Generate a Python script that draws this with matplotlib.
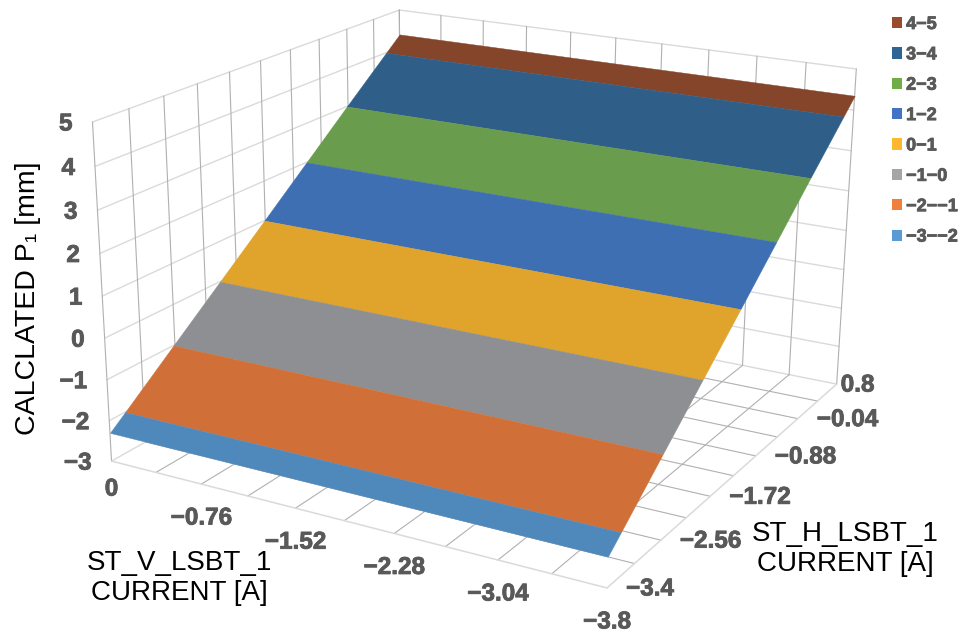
import numpy as np
import matplotlib
matplotlib.use("Agg")
import matplotlib.pyplot as plt
import matplotlib.patheffects as pe
from matplotlib.patches import Patch
from mpl_toolkits.mplot3d import proj3d
from mpl_toolkits.mplot3d.art3d import Poly3DCollection

W, H = 960, 632

# grid of the two magnet currents
v_grid = [0, -0.38, -0.76, -1.14, -1.52, -1.9, -2.28, -2.66, -3.04, -3.42, -3.8]
h_grid = [-3.4, -2.98, -2.56, -2.14, -1.72, -1.3, -0.88, -0.46, -0.04, 0.38, 0.8]
z_ticks = [-3, -2, -1, 0, 1, 2, 3, 4, 5]

# calculated P1, it only changes with the H current
p1_by_h = [-2.3, -1.64, -0.97, -0.31, 0.36, 1.02, 1.69, 2.36, 3.03, 3.69, 4.35]

v_ticks = [0, -0.76, -1.52, -2.28, -3.04, -3.8]
v_tick_labels = ["0", "−0.76", "−1.52", "−2.28", "−3.04", "−3.8"]
h_ticks = [0.8, -0.04, -0.88, -1.72, -2.56, -3.4]
h_tick_labels = ["0.8", "−0.04", "−0.88", "−1.72", "−2.56", "−3.4"]

band_labels = ["4−5", "3−4", "2−3", "1−2", "0−1", "−1−0", "−2−−1", "−3−−2"]
band_low = [4, 3, 2, 1, 0, -1, -2, -3]
band_colors = ["#84452A", "#2F5E88", "#6A9C4D", "#3E6FB3",
               "#E0A32B", "#8E8F92", "#D07038", "#4F89BC"]
legend_colors = ["#9A4B2C", "#2E6595", "#70AD47", "#4472C4",
                 "#FDB92B", "#A5A5A5", "#F07F3C", "#5B9BD5"]

FONT = ["Liberation Sans", "DejaVu Sans"]
plt.rcParams["font.family"] = FONT

GRID_DARK = "#B0B0B0"
GRID_LIGHT = "#DADADA"
TICK_COLOR = "#595959"
HEAVY = [pe.withStroke(linewidth=0.6, foreground=TICK_COLOR)]


def canvas_to_view(px, py):
    # axes is a 960 px square centred on the canvas, view limits -0.095..0.09
    return (-0.095 + px / W * 0.185,
            -0.095 + (H - py + (W - H) / 2) / W * 0.185)


def solve_camera():
    # box corners in data units and where they sit on the canvas
    v0, v1 = v_grid[0], v_grid[-1]
    h0, h1 = h_grid[0], h_grid[-1]
    z0, z1 = z_ticks[0], z_ticks[-1]
    pairs = [((v0, h0, z0), (112, 461), 1), ((v0, h0, z1), (92, 122), 1),
             ((v1, h0, z0), (607, 588), 1), ((v1, h1, z0), (837, 384), 1),
             ((v1, h1, z1), (856, 69), 1), ((v0, h1, z1), (400, 10), 1),
             ((v0, h1, z0), (385, 300), 0.2)]
    A, b = [], []
    for (x, y, z), (px, py), wt in pairs:
        u, v = canvas_to_view(px, py)
        A.append(np.array([x, y, z, 1, 0, 0, 0, 0, -u * x, -u * y, -u * z]) * wt)
        A.append(np.array([0, 0, 0, 0, x, y, z, 1, -v * x, -v * y, -v * z]) * wt)
        b += [u * wt, v * wt]
    p = np.linalg.lstsq(np.array(A), np.array(b), rcond=None)[0]
    return np.array([p[:4], p[4:8],
                     [-p[8], -p[9], -p[10], -1.5],
                     [p[8], p[9], p[10], 1.0]])


fig = plt.figure(figsize=(W / 100, H / 100), dpi=100)
ax = fig.add_axes([0, -(W - H) / 2 / H, 1, W / H], projection="3d")
ax.set_xlim(v_grid[-1], v_grid[0])
ax.set_ylim(h_grid[0], h_grid[-1])
ax.set_zlim(z_ticks[0], z_ticks[-1])
ax.set_axis_off()
ax.computed_zorder = False

camera = solve_camera()
ax.get_proj = lambda: camera


def line3(xs, ys, zs, color, lw=0.8, zorder=1):
    ax.plot3D(xs, ys, zs, color=color, lw=lw, zorder=zorder, solid_capstyle="round")


v0, v1 = v_grid[0], v_grid[-1]
h0, h1 = h_grid[0], h_grid[-1]
z0, z1 = z_ticks[0], z_ticks[-1]

# back walls: light horizontals, darker verticals
for z in z_ticks:
    line3([v0, v0], [h0, h1], [z, z], GRID_LIGHT, 1.0)
    line3([v0, v1], [h1, h1], [z, z], GRID_LIGHT, 1.0)
for h in h_grid:
    line3([v0, v0], [h, h], [z0, z1], GRID_DARK)
for v in v_grid:
    line3([v, v], [h1, h1], [z0, z1], GRID_DARK)

# floor
for v in v_grid[1:-1]:
    line3([v, v], [h0, h1], [z0, z0], GRID_DARK)
for h in h_grid[1:-1]:
    line3([v0, v1], [h, h], [z0, z0], GRID_DARK)
line3([v0, v1], [h0, h0], [z0, z0], GRID_LIGHT, 1.1, 2)
line3([v1, v1], [h0, h1], [z0, z0], GRID_LIGHT, 1.1, 2)

# surface cut into one flat strip per value band
for low, color in zip(band_low, band_colors):
    z_lo = max(low, p1_by_h[0])
    z_hi = min(low + 1, p1_by_h[-1])
    h_lo = np.interp(z_lo, p1_by_h, h_grid)
    h_hi = np.interp(z_hi, p1_by_h, h_grid)
    strip = [(v0, h_lo, z_lo), (v1, h_lo, z_lo), (v1, h_hi, z_hi), (v0, h_hi, z_hi)]
    ax.add_collection3d(Poly3DCollection([strip], facecolors=color, edgecolors=color,
                                         linewidths=0.3, zorder=5))


def tick_text(x, y, z, label, dx, dy, ha):
    u, v, _ = proj3d.proj_transform(x, y, z, camera)
    ax.annotate(label, xy=(u, v), xytext=(dx, dy), textcoords="offset pixels",
                ha=ha, va="center", fontsize=17.5, fontweight="bold",
                color=TICK_COLOR, annotation_clip=False, zorder=10,
                path_effects=HEAVY)


for z in z_ticks:
    tick_text(v0, h0, z, str(z).replace("-", "−"), -20, -2, "right")
for v, label in zip(v_ticks, v_tick_labels):
    tick_text(v, h0, z0, label, 0, -28 if v == 0 else -34, "center")
for h, label in zip(h_ticks, h_tick_labels):
    tick_text(v1, h, z0, label, 19 if label[0] == "−" else 4, -1, "left")

# axis titles
fig.text(179 / W, 1 - 578 / H, "ST_V_LSBT_1\nCURRENT [A]", ha="center", va="center",
         fontsize=20, linespacing=1.15, color="black")
fig.text(845 / W, 1 - 549 / H, "ST_H_LSBT_1\nCURRENT [A]", ha="center", va="center",
         fontsize=20, linespacing=1.2, color="black")
fig.text(28 / W, 1 - 298 / H, "CALCLATED P₁ [mm]", rotation=90, ha="center", va="center",
         fontsize=20.5, color="black")

handles = [Patch(facecolor=c, edgecolor="none") for c in legend_colors]
leg = fig.legend(handles, band_labels, loc="upper left", bbox_to_anchor=(892 / W, 1 - 16 / H),
                 frameon=False, labelcolor=TICK_COLOR,
                 prop={"family": FONT, "weight": "bold", "size": 13},
                 handlelength=0.58, handleheight=0.58, handletextpad=0.2,
                 labelspacing=0.74, borderpad=0, borderaxespad=0)
for text in leg.get_texts():
    text.set_path_effects(HEAVY)

fig.savefig("out.png", dpi=100, facecolor="white")
